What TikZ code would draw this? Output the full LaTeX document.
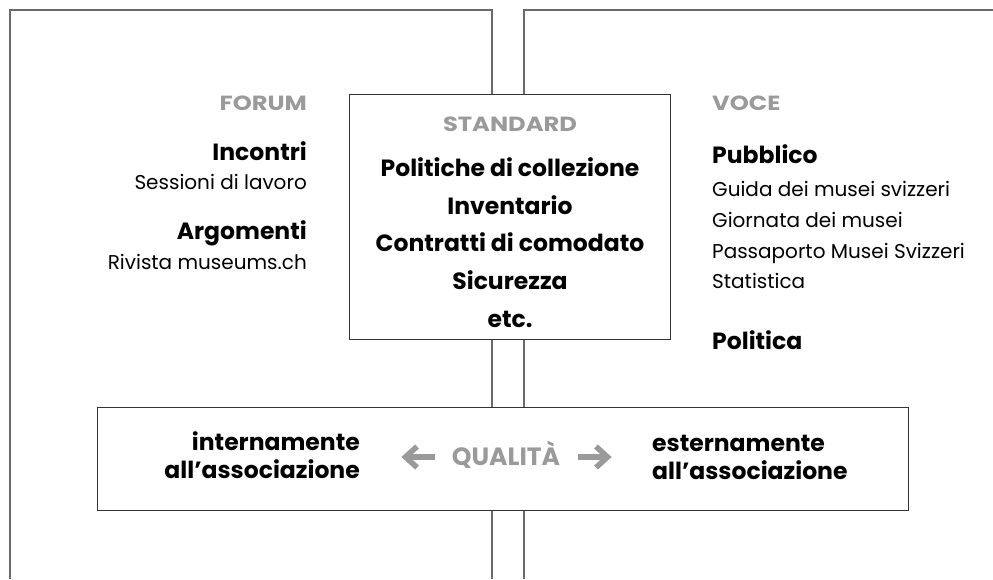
\documentclass[tikz,border=0pt]{standalone}
\usepackage{fontspec}
\setmainfont{Poppins}
\newfontfamily\regf{Poppins}
\newfontfamily\bldf{Poppins}
\newfontfamily\ttlf[FakeStretch=1.18]{Poppins}
\usetikzlibrary{arrows.meta}
\definecolor{lbl}{HTML}{9A9A9A}
\definecolor{frame}{HTML}{6A6A6A}
\definecolor{boxc}{HTML}{333333}
\begin{document}
\begin{tikzpicture}[x=1pt,y=-1pt,
  reg/.style={font=\regf\fontsize{20}{22}\selectfont, inner sep=0pt},
  bld/.style={font=\bldf\bfseries\fontsize{23.5}{26}\selectfont, inner sep=0pt},
  ttl/.style={font=\ttlf\bfseries\fontsize{20.5}{22}\selectfont, text=lbl, inner sep=0pt},
  qtl/.style={font=\bldf\bfseries\fontsize{25}{27}\selectfont, text=lbl, inner sep=0pt},
  panel/.style={draw=frame, line width=1.2pt},
  box/.style={draw=boxc, line width=1.1pt, fill=white, inner sep=0pt},
  garrow/.style={draw=lbl, line width=5.5pt}]
\useasboundingbox (0,0) rectangle (993,579);
% panels
\draw[panel] (10,579) -- (10,10) -- (492,10) -- (492,579);
\draw[panel] (993,10) -- (524,10) -- (524,579);
% boxes
\node[box, minimum width=321, minimum height=245, anchor=north west] (std) at (349,94) {};
\node[box, minimum width=811, minimum height=103, anchor=north west] (qual) at (97,407) {};
% left column
\node[ttl, anchor=base east] (forum) at (307,110) {FORUM};
\node[bld, anchor=base east] (inc) at (307,160) {Incontri};
\node[reg, anchor=base east] (sess) at (307,189) {Sessioni di lavoro};
\node[bld, anchor=base east] (arg) at (307,239) {Argomenti};
\node[reg, anchor=base east] (riv) at (307,269) {Rivista museums.ch};
% standard
\node[ttl, anchor=base] (stdt) at (510,131) {STANDARD};
\node[bld, anchor=base] (pol) at (510,176) {Politiche di collezione};
\node[bld, anchor=base] (inv) at (510,214) {Inventario};
\node[bld, anchor=base] (con) at (510,251) {Contratti di comodato};
\node[bld, anchor=base] (sic) at (510,289) {Sicurezza};
\node[bld, anchor=base] (etc) at (510,327) {etc.};
% right column
\node[ttl, anchor=base west] (voce) at (712,110) {VOCE};
\node[bld, anchor=base west] (pub) at (712,163) {Pubblico};
\node[reg, anchor=base west] (gui) at (712,196) {Guida dei musei svizzeri};
\node[reg, anchor=base west] (gio) at (712,227) {Giornata dei musei};
\node[reg, anchor=base west] (pas) at (712,258) {Passaporto Musei Svizzeri};
\node[reg, anchor=base west] (sta) at (712,288) {Statistica};
\node[bld, anchor=base west] (polt) at (712,349) {Politica};
% bottom
\node[bld, anchor=base east] (int1) at (360,450) {internamente};
\node[bld, anchor=base east] (int2) at (360,478) {all’associazione};
\node[bld, anchor=base west] (est1) at (652,451) {esternamente};
\node[bld, anchor=base west] (est2) at (652,479) {all’associazione};
\node[qtl, anchor=base] (q) at (506,465) {QUALITÀ};
% arrows
\coordinate (la1) at (435,457);
\coordinate (la2) at (407,457);
\coordinate (ra1) at (578,457);
\coordinate (ra2) at (606,457);
\draw[garrow] (la1) -- (la2);
\draw[garrow, line join=miter] ([shift={(10,-10.5)}]la2) -- ([shift={(-1.5,0)}]la2) -- ([shift={(10,10.5)}]la2);
\draw[garrow] (ra1) -- (ra2);
\draw[garrow, line join=miter] ([shift={(-10,-10.5)}]ra2) -- ([shift={(1.5,0)}]ra2) -- ([shift={(-10,10.5)}]ra2);
\end{tikzpicture}
\end{document}
